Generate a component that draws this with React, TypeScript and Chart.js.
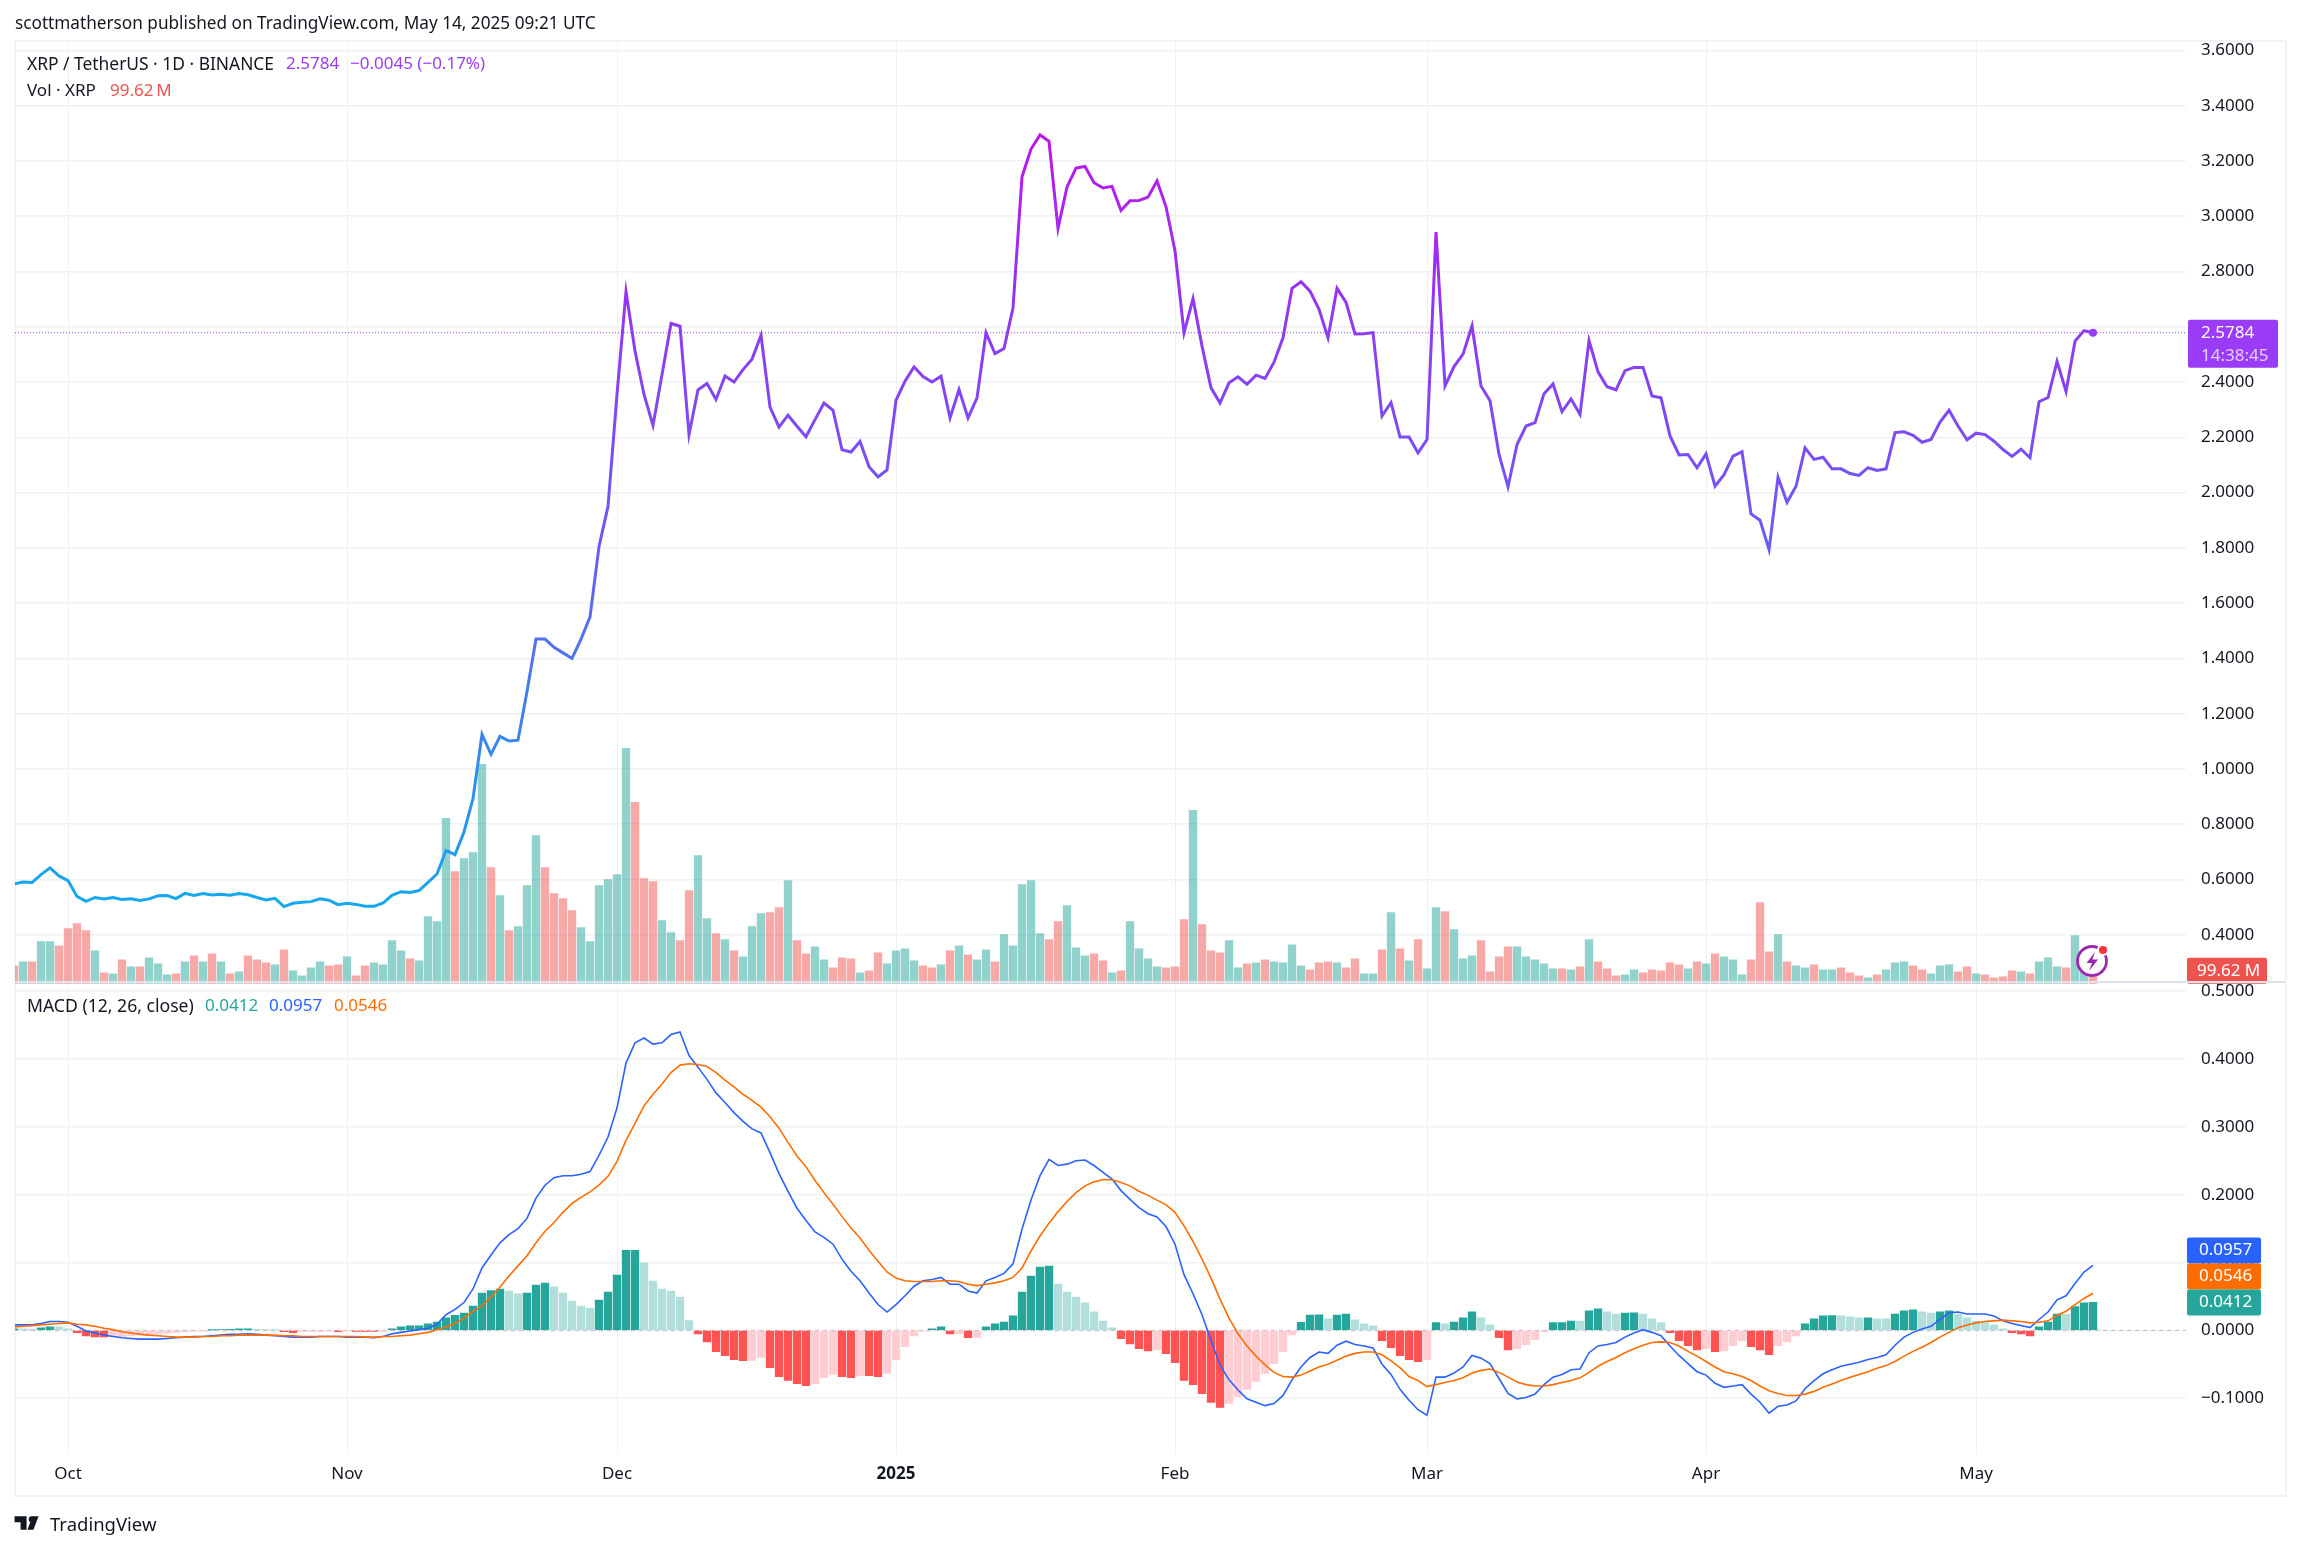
import React, { useEffect, useRef } from 'react';
import { Chart, registerables } from 'chart.js';

Chart.register(...registerables);

const FONT = '"Noto Sans", sans-serif';
const INK = '#131722';
const UP = '#26a69a';
const DOWN = '#ef5350';
const PURPLE = '#9a3cf5';

// one value per day, index 0 = 25 Sep 2024, last = 14 May 2025
const closes = [
  0.584, 0.591, 0.589, 0.618, 0.642, 0.613, 0.596, 0.539, 0.521, 0.535,
  0.530, 0.535, 0.528, 0.530, 0.524, 0.530, 0.541, 0.542, 0.531, 0.550,
  0.542, 0.549, 0.544, 0.547, 0.543, 0.549, 0.545, 0.535, 0.526, 0.532,
  0.502, 0.514, 0.518, 0.520, 0.530, 0.525, 0.509, 0.514, 0.510, 0.503,
  0.503, 0.515, 0.543, 0.556, 0.553, 0.560, 0.590, 0.620, 0.705, 0.690,
  0.772, 0.893, 1.125, 1.053, 1.118, 1.101, 1.104, 1.28, 1.47, 1.47,
  1.44, 1.42, 1.40, 1.47, 1.55, 1.805, 1.95, 2.355, 2.727, 2.512,
  2.355, 2.243, 2.427, 2.612, 2.602, 2.21, 2.372, 2.395, 2.337, 2.422,
  2.40, 2.445, 2.483, 2.569, 2.309, 2.237, 2.28, 2.24, 2.202, 2.264,
  2.324, 2.298, 2.155, 2.147, 2.185, 2.094, 2.057, 2.082, 2.334, 2.403,
  2.455, 2.42, 2.40, 2.421, 2.27, 2.373, 2.27, 2.343, 2.578, 2.503,
  2.521, 2.669, 3.143, 3.243, 3.294, 3.271, 2.956, 3.106, 3.174, 3.18,
  3.121, 3.102, 3.108, 3.021, 3.056, 3.057, 3.069, 3.128, 3.034, 2.874,
  2.578, 2.702, 2.53, 2.379, 2.324, 2.397, 2.419, 2.392, 2.425, 2.413,
  2.472, 2.56, 2.739, 2.763, 2.729, 2.663, 2.56, 2.739, 2.688, 2.574,
  2.575, 2.579, 2.277, 2.326, 2.201, 2.201, 2.144, 2.192, 2.943, 2.386,
  2.456, 2.501, 2.603, 2.386, 2.332, 2.138, 2.021, 2.174, 2.241, 2.253,
  2.358, 2.393, 2.293, 2.339, 2.283, 2.55, 2.437, 2.383, 2.372, 2.441,
  2.453, 2.453, 2.35, 2.343, 2.205, 2.136, 2.138, 2.09, 2.14, 2.023,
  2.065, 2.132, 2.148, 1.923, 1.90, 1.794, 2.056, 1.965, 2.023, 2.162,
  2.12, 2.128, 2.086, 2.086, 2.069, 2.062, 2.09, 2.08, 2.086, 2.217,
  2.22, 2.207, 2.182, 2.192, 2.255, 2.298, 2.241, 2.191, 2.215, 2.21,
  2.186, 2.156, 2.131, 2.157, 2.126, 2.329, 2.344, 2.475, 2.366, 2.548,
  2.586, 2.5784,
];

// millions of XRP
const volumes = [
  162, 198, 198, 378, 378, 342, 495, 540, 477, 297,
  99, 90, 216, 153, 153, 234, 180, 81, 90, 198,
  252, 198, 270, 198, 90, 108, 252, 216, 189, 171,
  306, 117, 72, 144, 198, 162, 171, 243, 72, 162,
  189, 171, 387, 297, 225, 207, 603, 558, 1485, 1008,
  1125, 1179, 1971, 1044, 792, 477, 513, 882, 1332, 1044,
  810, 765, 657, 504, 378, 882, 936, 981, 2115, 1629,
  945, 918, 567, 459, 387, 837, 1152, 585, 450, 396,
  297, 243, 513, 630, 639, 684, 927, 387, 270, 333,
  216, 144, 234, 225, 99, 117, 279, 180, 297, 315,
  207, 162, 144, 171, 297, 342, 261, 216, 306, 198,
  441, 342, 891, 927, 450, 396, 558, 702, 324, 252,
  270, 207, 99, 117, 558, 315, 225, 153, 144, 153,
  576, 1557, 531, 297, 279, 387, 144, 180, 189, 216,
  198, 189, 351, 162, 126, 189, 198, 189, 144, 225,
  90, 90, 306, 639, 315, 207, 396, 135, 684, 648,
  486, 225, 252, 387, 108, 243, 333, 333, 243, 216,
  180, 135, 135, 126, 153, 396, 198, 135, 72, 81,
  126, 99, 126, 117, 189, 171, 135, 198, 180, 270,
  243, 216, 81, 216, 729, 288, 441, 198, 162, 144,
  171, 126, 126, 144, 99, 72, 54, 81, 126, 189,
  198, 162, 126, 90, 162, 171, 108, 153, 90, 81,
  54, 63, 117, 108, 90, 198, 234, 153, 144, 432,
  249, 99.62,
];

// u = close above open, d = below
const volumeDir = [
  'duduuddddu', 'dududuuudu', 'dudududddu',
  'duuuuddudd', 'uuuuduuuud', 'uuududuuud', 'ddduuuuuud',
  'dduudduudu', 'duuudduddu', 'udddudduuu', 'uddududuud',
  'uuuuudduuu', 'dduduuuudd', 'duddduudud', 'uuuudddudd',
  'uudududuud', 'uuudddduuu', 'uudududddu', 'udddddudud',
  'uuuddduduu', 'duuddduduu', 'udduuuddud',
  'ddduduuudu', 'ud',
].join('').split('');

const histogram = [
  0.0023, 0.0021, 0.0020, 0.0036, 0.0051, 0.0050, 0.0021, -0.0036, -0.0082, -0.0097,
  -0.0098, -0.0095, -0.0090, -0.0082, -0.0051, -0.0050, -0.0049, -0.0041, -0.0031, -0.0021,
  -0.0010, -0.0005, 0.0005, 0.0010, 0.0015, 0.0021, 0.0022, 0.0015, 0.0012, 0.0005,
  -0.0021, -0.0036, -0.0021, -0.0020, -0.0019, -0.0010, -0.0021, -0.0010, -0.0015, -0.0016,
  -0.0017, -0.0005, 0.0021, 0.0051, 0.0067, 0.0068, 0.0097, 0.0123, 0.0185, 0.0221,
  0.0256, 0.0359, 0.0549, 0.0585, 0.0610, 0.0579, 0.0538, 0.0549, 0.0667, 0.0697,
  0.0641, 0.0549, 0.0431, 0.0359, 0.0328, 0.0446, 0.0564, 0.0815, 0.1179, 0.1180,
  0.0995, 0.0728, 0.0610, 0.0579, 0.0492, 0.0144, -0.0051, -0.0169, -0.0313, -0.0374,
  -0.0431, -0.0446, -0.0445, -0.0400, -0.0549, -0.0682, -0.0738, -0.0785, -0.0815, -0.0785,
  -0.0697, -0.0651, -0.0682, -0.0697, -0.0667, -0.0670, -0.0682, -0.0636, -0.0431, -0.0241,
  -0.0082, -0.0010, 0.0021, 0.0051, -0.0051, -0.0050, -0.0108, -0.0105, 0.0051, 0.0097,
  0.0123, 0.0215, 0.0564, 0.0800, 0.0933, 0.0949, 0.0682, 0.0564, 0.0492, 0.0405,
  0.0272, 0.0138, 0.0036, -0.0123, -0.0200, -0.0272, -0.0303, -0.0287, -0.0344, -0.0477,
  -0.0738, -0.0800, -0.0933, -0.1062, -0.1138, -0.1077, -0.0974, -0.0872, -0.0754, -0.0636,
  -0.0492, -0.0313, -0.0067, 0.0118, 0.0226, 0.0227, 0.0169, 0.0226, 0.0241, 0.0154,
  0.0097, 0.0067, -0.0154, -0.0256, -0.0374, -0.0431, -0.0462, -0.0431, 0.0113, 0.0097,
  0.0123, 0.0185, 0.0272, 0.0185, 0.0082, -0.0108, -0.0287, -0.0272, -0.0210, -0.0138,
  -0.0021, 0.0113, 0.0114, 0.0138, 0.0137, 0.0287, 0.0318, 0.0272, 0.0241, 0.0256,
  0.0257, 0.0241, 0.0169, 0.0113, -0.0036, -0.0154, -0.0226, -0.0287, -0.0272, -0.0313,
  -0.0303, -0.0226, -0.0154, -0.0241, -0.0287, -0.0359, -0.0226, -0.0169, -0.0082, 0.0097,
  0.0169, 0.0215, 0.0216, 0.0214, 0.0200, 0.0185, 0.0186, 0.0169, 0.0168, 0.0241,
  0.0287, 0.0303, 0.0272, 0.0256, 0.0272, 0.0287, 0.0241, 0.0185, 0.0138, 0.0113,
  0.0082, 0.0021, -0.0036, -0.0051, -0.0082, 0.0051, 0.0123, 0.0241, 0.0240, 0.0349,
  0.0405, 0.0412,
];

const macdLine = [
  0.008, 0.008, 0.008, 0.010, 0.013, 0.013, 0.012, 0.006, -0.001, -0.004,
  -0.007, -0.009, -0.011, -0.012, -0.013, -0.013, -0.013, -0.012, -0.011, -0.010,
  -0.009, -0.009, -0.008, -0.007, -0.006, -0.006, -0.005, -0.006, -0.007, -0.008,
  -0.009, -0.010, -0.010, -0.010, -0.009, -0.009, -0.009, -0.010, -0.010, -0.010,
  -0.011, -0.009, -0.005, -0.003, -0.001, 0.001, 0.003, 0.009, 0.023, 0.031,
  0.041, 0.061, 0.092, 0.111, 0.129, 0.141, 0.150, 0.165, 0.195, 0.214,
  0.225, 0.228, 0.228, 0.230, 0.234, 0.258, 0.285, 0.328, 0.394, 0.424,
  0.431, 0.422, 0.424, 0.436, 0.440, 0.405, 0.388, 0.370, 0.350, 0.336,
  0.321, 0.308, 0.297, 0.291, 0.262, 0.231, 0.205, 0.180, 0.162, 0.145,
  0.137, 0.127, 0.105, 0.087, 0.073, 0.055, 0.038, 0.027, 0.038, 0.051,
  0.065, 0.073, 0.075, 0.078, 0.068, 0.068, 0.058, 0.055, 0.073, 0.078,
  0.084, 0.098, 0.149, 0.192, 0.228, 0.252, 0.243, 0.245, 0.250, 0.251,
  0.243, 0.233, 0.223, 0.206, 0.193, 0.181, 0.172, 0.167, 0.153, 0.127,
  0.082, 0.054, 0.023, -0.015, -0.051, -0.073, -0.088, -0.101, -0.106, -0.111,
  -0.108, -0.096, -0.073, -0.054, -0.040, -0.032, -0.034, -0.022, -0.016, -0.021,
  -0.023, -0.026, -0.050, -0.065, -0.087, -0.103, -0.117, -0.125, -0.069, -0.069,
  -0.063, -0.054, -0.037, -0.041, -0.049, -0.071, -0.093, -0.101, -0.099, -0.094,
  -0.080, -0.069, -0.065, -0.058, -0.057, -0.033, -0.023, -0.021, -0.018, -0.010,
  -0.004, 0.001, -0.003, -0.008, -0.023, -0.037, -0.049, -0.061, -0.066, -0.078,
  -0.084, -0.082, -0.080, -0.094, -0.106, -0.122, -0.112, -0.110, -0.104, -0.086,
  -0.074, -0.064, -0.058, -0.053, -0.050, -0.047, -0.043, -0.040, -0.036, -0.022,
  -0.010, -0.003, 0.002, 0.006, 0.016, 0.026, 0.027, 0.024, 0.024, 0.024,
  0.021, 0.014, 0.010, 0.007, 0.004, 0.016, 0.027, 0.045, 0.051, 0.069,
  0.086, 0.0957,
];

const signalLine = [
  0.005, 0.006, 0.007, 0.008, 0.009, 0.010, 0.011, 0.009, 0.008, 0.006,
  0.003, 0.001, -0.002, -0.004, -0.006, -0.007, -0.008, -0.009, -0.010, -0.010,
  -0.010, -0.009, -0.009, -0.008, -0.008, -0.007, -0.007, -0.007, -0.007, -0.007,
  -0.008, -0.008, -0.009, -0.009, -0.009, -0.009, -0.009, -0.009, -0.009, -0.010,
  -0.010, -0.009, -0.009, -0.008, -0.007, -0.005, -0.003, 0.001, 0.005, 0.010,
  0.018, 0.028, 0.036, 0.049, 0.064, 0.080, 0.095, 0.110, 0.129, 0.146,
  0.159, 0.174, 0.187, 0.196, 0.204, 0.214, 0.227, 0.249, 0.280, 0.305,
  0.331, 0.348, 0.363, 0.380, 0.391, 0.393, 0.392, 0.389, 0.380, 0.369,
  0.359, 0.348, 0.339, 0.329, 0.315, 0.298, 0.277, 0.257, 0.241, 0.221,
  0.203, 0.186, 0.168, 0.151, 0.136, 0.118, 0.102, 0.086, 0.077, 0.073,
  0.072, 0.072, 0.072, 0.073, 0.073, 0.072, 0.068, 0.066, 0.068, 0.070,
  0.073, 0.078, 0.092, 0.117, 0.139, 0.158, 0.175, 0.190, 0.203, 0.213,
  0.219, 0.222, 0.222, 0.218, 0.213, 0.205, 0.199, 0.192, 0.185, 0.174,
  0.154, 0.131, 0.105, 0.077, 0.046, 0.018, -0.005, -0.023, -0.038, -0.051,
  -0.062, -0.068, -0.069, -0.066, -0.060, -0.054, -0.050, -0.044, -0.038, -0.034,
  -0.032, -0.032, -0.036, -0.045, -0.055, -0.068, -0.074, -0.083, -0.080, -0.077,
  -0.074, -0.070, -0.063, -0.059, -0.057, -0.062, -0.069, -0.076, -0.080, -0.082,
  -0.082, -0.080, -0.077, -0.074, -0.070, -0.062, -0.053, -0.046, -0.040, -0.033,
  -0.027, -0.022, -0.018, -0.017, -0.018, -0.023, -0.031, -0.038, -0.046, -0.054,
  -0.061, -0.064, -0.068, -0.074, -0.082, -0.089, -0.093, -0.096, -0.096, -0.094,
  -0.090, -0.084, -0.079, -0.074, -0.069, -0.065, -0.061, -0.056, -0.052, -0.046,
  -0.038, -0.031, -0.025, -0.018, -0.010, -0.003, 0.004, 0.008, 0.011, 0.013,
  0.014, 0.015, 0.014, 0.013, 0.011, 0.012, 0.014, 0.022, 0.028, 0.038,
  0.047, 0.0546,
];

const monthIndex = [6, 37, 67, 98, 129, 157, 188, 218];
const monthLabels = ['Oct', 'Nov', 'Dec', '2025', 'Feb', 'Mar', 'Apr', 'May'];
const priceTicks = [0.4, 0.6, 0.8, 1.0, 1.2, 1.4, 1.6, 1.8, 2.0, 2.2, 2.4, 2.6, 2.8, 3.0, 3.2, 3.4, 3.6];
const macdTicks = [-0.1, 0, 0.1, 0.2, 0.3, 0.4, 0.5];

const lastPrice = 2.5784;
const lastVolume = 99.62;
const lastHist = 0.0412;

const xMin = 0.111;
const xMax = 241.33;

const xy = (arr: number[]) => arr.map((y, x) => ({ x, y }));
const fmt = (v: number) => (v < 0 ? '\u2212' : '') + Math.abs(v).toFixed(4);

function histColor(v: number, i: number) {
  const rising = i === 0 ? true : v >= histogram[i - 1];
  if (v >= 0) return rising ? '#26a69a' : '#b2dfdb';
  return rising ? '#ffcdd2' : '#ff5252';
}

function tag(ctx: CanvasRenderingContext2D, x: number, y: number, w: number, h: number, color: string) {
  ctx.fillStyle = color;
  ctx.beginPath();
  ctx.roundRect(x, y, w, h, 2);
  ctx.fill();
}

const priceTags = {
  id: 'priceTags',
  afterDraw(chart: any) {
    const { ctx, scales, chartArea } = chart;
    ctx.save();
    ctx.font = `17px ${FONT}`;
    ctx.textBaseline = 'middle';
    ctx.textAlign = 'left';
    const py = scales.y.getPixelForValue(lastPrice);
    tag(ctx, chartArea.right + 2, py - 13, 90, 48, PURPLE);
    ctx.fillStyle = '#fff';
    ctx.fillText(lastPrice.toFixed(4), chartArea.right + 15, py);
    ctx.fillStyle = 'rgba(255,255,255,0.75)';
    ctx.fillText('14:38:45', chartArea.right + 15, py + 23);
    const vy = chartArea.bottom - 13;
    tag(ctx, chartArea.right + 1, vy - 13, 80, 26, DOWN);
    ctx.fillStyle = '#fff';
    ctx.fillText(`${lastVolume} M`, chartArea.right + 11, vy);
    ctx.restore();
  },
};

const macdTags = {
  id: 'macdTags',
  afterDraw(chart: any) {
    const { ctx, scales, chartArea } = chart;
    const y0 = scales.y.getPixelForValue(lastHist);
    const rows = [
      { v: macdLine[macdLine.length - 1], c: '#2962ff', y: y0 - 52 },
      { v: signalLine[signalLine.length - 1], c: '#ff6d00', y: y0 - 26 },
      { v: lastHist, c: UP, y: y0 },
    ];
    ctx.save();
    ctx.font = `17px ${FONT}`;
    ctx.textBaseline = 'middle';
    ctx.textAlign = 'left';
    rows.forEach((r) => {
      tag(ctx, chartArea.right + 1, r.y - 13, 74, 26, r.c);
      ctx.fillStyle = '#fff';
      ctx.fillText(r.v.toFixed(4), chartArea.right + 13, r.y);
    });
    ctx.restore();
  },
};

const commonOptions = {
  responsive: false,
  animation: false as const,
  devicePixelRatio: 1,
  events: [] as any[],
  plugins: { legend: { display: false }, tooltip: { enabled: false } },
};

function xAxis(showLabels: boolean) {
  return {
    type: 'linear',
    min: xMin,
    max: xMax,
    offset: false,
    afterBuildTicks: (s: any) => { s.ticks = monthIndex.map((value) => ({ value })); },
    afterFit: (s: any) => { s.height = showLabels ? 41 : 0; },
    grid: { color: '#eef0f3', lineWidth: 1, drawTicks: false, offset: false },
    border: { display: false },
    ticks: {
      display: showLabels,
      autoSkip: false,
      maxRotation: 0,
      padding: 10,
      color: INK,
      font: (c: any) => ({ family: FONT, size: 17, weight: c.index === 3 ? 'bold' : 'normal' }),
      callback: (v: number) => monthLabels[monthIndex.indexOf(v)],
    },
  };
}

function yAxis(min: number, max: number, ticks: number[]) {
  return {
    position: 'right',
    min,
    max,
    afterBuildTicks: (s: any) => { s.ticks = ticks.map((value) => ({ value })); },
    afterFit: (s: any) => { s.width = 99; },
    grid: { color: '#f0f1f4', lineWidth: 1.5, drawTicks: false },
    border: { display: false },
    ticks: {
      autoSkip: false,
      padding: 15,
      color: INK,
      font: { family: FONT, size: 17 },
      callback: (v: number) => fmt(v),
    },
  };
}

function priceGradient(ctx: any) {
  const { chart } = ctx;
  const y = chart.scales.y;
  if (!y || !chart.chartArea) return PURPLE;
  const top = y.getPixelForValue(3.3);
  const bottom = y.getPixelForValue(0.5);
  const g = chart.ctx.createLinearGradient(0, bottom, 0, top);
  g.addColorStop(0, '#13a9ee');
  g.addColorStop(0.22, '#3a85ea');
  g.addColorStop(0.47, '#6a5cf5');
  g.addColorStop(0.75, '#8f3af2');
  g.addColorStop(1, '#bd14ee');
  return g;
}

function Logo() {
  return (
    <svg width="32" height="24" viewBox="0 0 36 28" style={{ position: 'absolute', left: 14, top: 1511 }}>
      <path d="M14 6H0v7h7v9h7V6Zm14 0h-7l-6 16h7l6-16Z" fill={INK} />
      <circle cx="20" cy="9.5" r="3.5" fill={INK} />
    </svg>
  );
}

function Bolt() {
  return (
    <svg width="36" height="36" viewBox="0 0 36 36" style={{ position: 'absolute', left: 2074, top: 942 }}>
      <circle cx="18" cy="19" r="14.5" fill="#fff" stroke="#9c27b0" strokeWidth="2.8" />
      <path d="M21 10 12.5 21h5.5l-3 8 9-11.5h-5.5Z" fill="#9c27b0" />
      <circle cx="29" cy="8" r="6" fill="#fff" />
      <circle cx="29" cy="8" r="4" fill="#f7323f" />
    </svg>
  );
}

const textBase: React.CSSProperties = {
  position: 'absolute',
  fontFamily: FONT,
  lineHeight: '20px',
  whiteSpace: 'pre',
};

function Label({ x, y, color, size, children }: any) {
  return <div style={{ ...textBase, left: x, top: y - 10, color: color || INK, fontSize: size || 17 }}>{children}</div>;
}

export default function App() {
  const topRef = useRef<HTMLCanvasElement | null>(null);
  const bottomRef = useRef<HTMLCanvasElement | null>(null);

  useEffect(() => {
    if (!topRef.current || !bottomRef.current) return;

    const top = new Chart(topRef.current.getContext('2d')!, {
      type: 'bar',
      data: {
        datasets: [
          {
            type: 'line',
            data: [{ x: xMin, y: lastPrice }, { x: xMax, y: lastPrice }],
            borderColor: PURPLE,
            borderWidth: 1,
            borderDash: [1, 2],
            pointRadius: 0,
            yAxisID: 'y',
            order: 2,
          },
          {
            type: 'line',
            data: xy(closes),
            borderColor: priceGradient,
            borderWidth: 3,
            tension: 0,
            pointRadius: (c: any) => (c.dataIndex === closes.length - 1 ? 4 : 0),
            pointBackgroundColor: PURPLE,
            pointBorderWidth: 0,
            yAxisID: 'y',
            order: 1,
          },
          {
            type: 'bar',
            data: xy(volumes),
            backgroundColor: volumeDir.map((d) => (d === 'u' ? 'rgba(38,166,154,0.5)' : 'rgba(239,83,80,0.5)')),
            barThickness: 7.7,
            yAxisID: 'vol',
            order: 3,
          },
        ],
      } as any,
      options: {
        ...commonOptions,
        layout: { autoPadding: false, padding: { left: 15, right: 16, top: 41, bottom: 0 } },
        scales: {
          x: xAxis(false),
          y: yAxis(0.2227, 3.634, priceTicks),
          vol: { display: false, min: 0, max: 8466 },
        },
      } as any,
      plugins: [priceTags],
    });

    const bottom = new Chart(bottomRef.current.getContext('2d')!, {
      type: 'bar',
      data: {
        datasets: [
          {
            type: 'line',
            data: [{ x: xMin, y: 0 }, { x: xMax, y: 0 }],
            borderColor: '#b8bbc2',
            borderWidth: 1,
            borderDash: [4, 4],
            pointRadius: 0,
            order: 4,
          },
          {
            type: 'line',
            data: xy(macdLine),
            borderColor: '#2962ff',
            borderWidth: 1.6,
            pointRadius: 0,
            order: 2,
          },
          {
            type: 'line',
            data: xy(signalLine),
            borderColor: '#ff6d00',
            borderWidth: 1.6,
            pointRadius: 0,
            order: 1,
          },
          {
            type: 'bar',
            data: xy(histogram),
            backgroundColor: histogram.map(histColor),
            barThickness: 7.7,
            order: 3,
          },
        ],
      } as any,
      options: {
        ...commonOptions,
        layout: { autoPadding: false, padding: { left: 15, right: 16, top: 22, bottom: 53 } },
        scales: {
          x: xAxis(true),
          y: yAxis(-0.1823, 0.5088, macdTicks),
        },
      } as any,
      plugins: [macdTags],
    });

    return () => { top.destroy(); bottom.destroy(); };
  }, []);

  return (
    <div style={{ position: 'absolute', left: 0, top: 0, width: 2301, height: 1548, background: '#fff', overflow: 'hidden' }}>
      <div style={{ position: 'absolute', left: 14, top: 40, width: 2269, height: 1453, border: '2px solid #f0f3fa', boxSizing: 'content-box' }} />
      <canvas ref={topRef} width={2301} height={1009} style={{ position: 'absolute', left: 0, top: 0 }} />
      <div style={{ position: 'absolute', left: 15, top: 981, width: 2270, height: 1.5, background: '#e0e3eb' }} />
      <canvas ref={bottomRef} width={2301} height={588} style={{ position: 'absolute', left: 0, top: 960 }} />
      <Bolt />

      <Label x={15} y={23} size={17.2}>scottmatherson published on TradingView.com, May 14, 2025 09:21 UTC</Label>

      <Label x={27} y={63} size={17.4}>XRP / TetherUS · 1D · BINANCE</Label>
      <Label x={286} y={63} color={PURPLE}>2.5784</Label>
      <Label x={350} y={63} color={PURPLE}>−0.0045 (−0.17%)</Label>

      <Label x={27} y={90}>Vol · XRP</Label>
      <Label x={110} y={90} color={DOWN}>99.62{'\u2009'}M</Label>

      <Label x={27} y={1005} size={17.6}>MACD (12, 26, close)</Label>
      <Label x={205} y={1005} color={UP}>0.0412</Label>
      <Label x={269} y={1005} color="#2962ff">0.0957</Label>
      <Label x={334} y={1005} color="#ff6d00">0.0546</Label>

      <Logo />
      <Label x={50} y={1524} size={18.5}>TradingView</Label>
    </div>
  );
}
